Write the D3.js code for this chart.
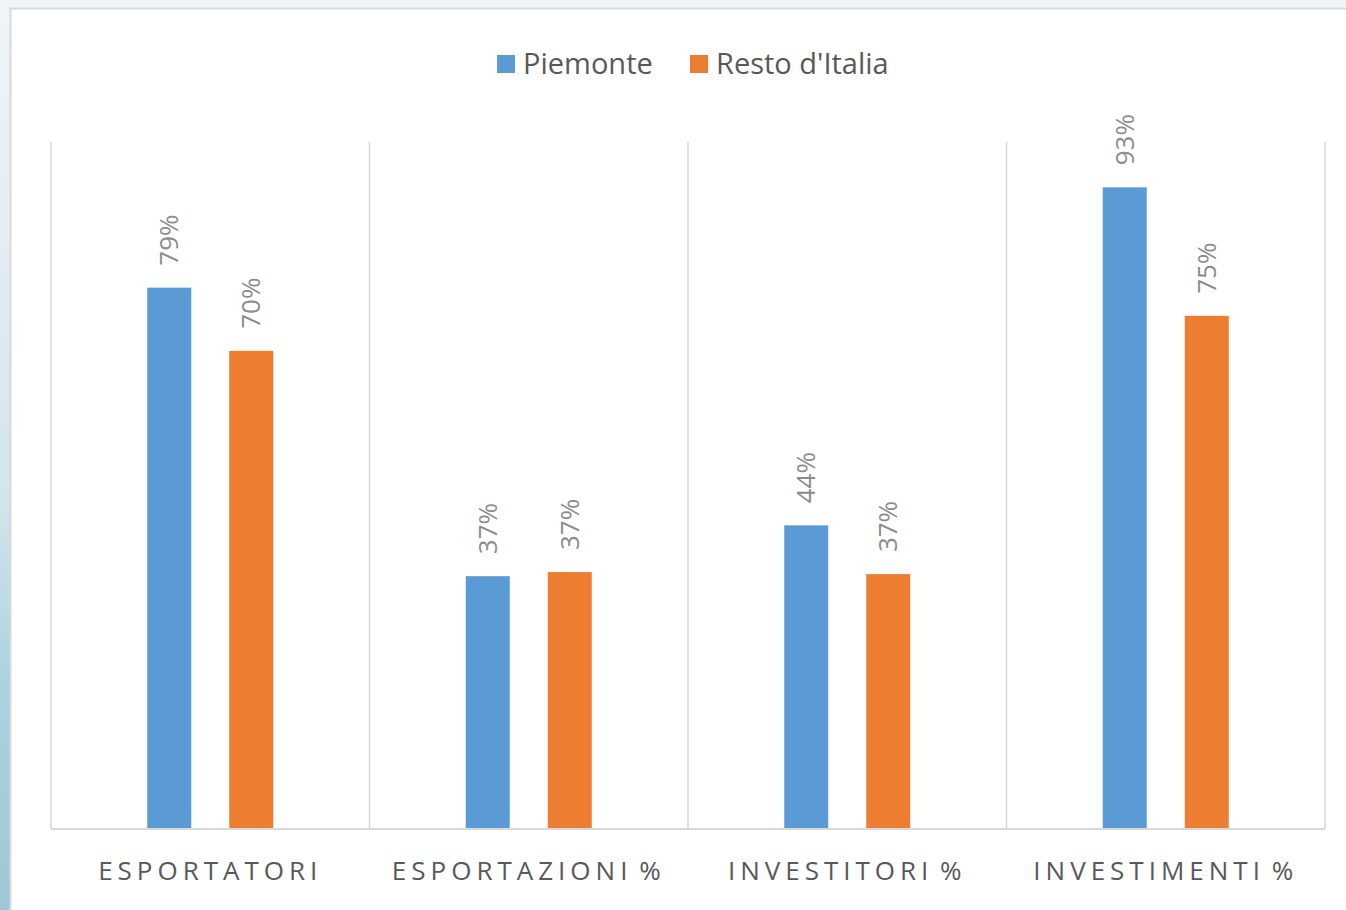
<!DOCTYPE html>
<html>
<head>
<meta charset="utf-8">
<script src="https://cdn.jsdelivr.net/npm/d3@7"></script>
<style>
  body { margin: 0; background: #fff; }
  svg { display: block; font-family: "Open Sans", "Liberation Sans", sans-serif; }
</style>
</head>
<body>
<script>
// data
var categories = ["ESPORTATORI", "ESPORTAZIONI %", "INVESTITORI %", "INVESTIMENTI %"];
var seriesNames = ["Piemonte", "Resto d'Italia"];
var piemonte = [78.8, 36.8, 44.2, 93.4];
var restoItalia = [69.6, 37.4, 37.1, 74.7];
var colors = ["#5b9bd5", "#ed7d31"];

var width = 1346, height = 910;
var margin = {top: 142, right: 21, bottom: 81, left: 51}; // plot area 51..1325, 142..829

var svg = d3.select("body").append("svg").attr("width", width).attr("height", height);

// slide background behind the chart box
var defs = svg.append("defs");
var grad = defs.append("linearGradient").attr("id", "bg").attr("x1", 0).attr("y1", 0).attr("x2", 0).attr("y2", 1);
grad.append("stop").attr("offset", "0%").attr("stop-color", "#f1f4f7");
grad.append("stop").attr("offset", "55%").attr("stop-color", "#d3e4ec");
grad.append("stop").attr("offset", "75%").attr("stop-color", "#a9d3df");
grad.append("stop").attr("offset", "100%").attr("stop-color", "#9fc6d6");
svg.append("rect").attr("width", width).attr("height", height).attr("fill", "url(#bg)");

// white chart box
svg.append("rect")
  .attr("x", 10.5).attr("y", 8.5)
  .attr("width", width).attr("height", height)
  .attr("fill", "#fff").attr("stroke", "#d9d9d9").attr("stroke-width", 2);

var data = categories.map(function(c, i) {
  return {cat: c, values: [piemonte[i], restoItalia[i]]};
});

var x = d3.scaleBand()
  .domain(categories)
  .range([margin.left, width - margin.right]);

var y = d3.scaleLinear()
  .domain([0, 100])
  .range([height - margin.bottom, margin.top]);

// gridlines between categories
var bounds = categories.map(function(c) { return x(c); }).concat([x.range()[1]]);
svg.append("g").selectAll("line")
  .data(bounds)
  .enter().append("line")
    .attr("x1", function(d) { return d; })
    .attr("x2", function(d) { return d; })
    .attr("y1", y(100))
    .attr("y2", y(0))
    .attr("stroke", "#d9d9d9")
    .attr("stroke-width", 1.5);

// bars: offset from category center
var barW = 44, offset = 41;
var groups = svg.append("g").selectAll("g")
  .data(data)
  .enter().append("g")
    .attr("transform", function(d) { return "translate(" + (x(d.cat) + x.bandwidth() / 2) + ",0)"; });

groups.selectAll("rect")
  .data(function(d) { return d.values; })
  .enter().append("rect")
    .attr("x", function(d, i) { return (i === 0 ? -offset : offset) - barW / 2; })
    .attr("y", function(d) { return y(d); })
    .attr("width", barW)
    .attr("height", function(d) { return y(0) - y(d); })
    .attr("fill", function(d, i) { return colors[i]; });

// rotated value labels
groups.selectAll("text")
  .data(function(d) { return d.values; })
  .enter().append("text")
    .attr("transform", function(d, i) {
      return "translate(" + ((i === 0 ? -offset : offset) + 9) + "," + (y(d) - 22) + ") rotate(-90)";
    })
    .attr("text-anchor", "start")
    .attr("font-size", 26)
    .attr("fill", "#8c8c8c")
    .text(function(d) { return Math.round(d) + "%"; });

// baseline
svg.append("line")
  .attr("x1", x.range()[0]).attr("x2", x.range()[1])
  .attr("y1", y(0)).attr("y2", y(0))
  .attr("stroke", "#d9d9d9").attr("stroke-width", 2);

// category labels
var xAxis = d3.axisBottom(x).tickSize(0).tickPadding(0);
var axisG = svg.append("g")
  .attr("transform", "translate(0," + y(0) + ")")
  .call(xAxis);
axisG.select(".domain").remove();
axisG.selectAll("text")
  .attr("y", 51)
  .attr("dy", 0)
  .attr("font-family", "\"Open Sans\", sans-serif")
  .attr("font-size", 26)
  .attr("letter-spacing", "5px")
  .attr("word-spacing", "-5px")
  .attr("fill", "#595959");

// legend
var legendItems = [{name: seriesNames[0], x: 497, color: colors[0]}, {name: seriesNames[1], x: 690, color: colors[1]}];
var legend = svg.append("g").selectAll("g")
  .data(legendItems)
  .enter().append("g")
    .attr("transform", function(d) { return "translate(" + d.x + ",0)"; });
legend.append("rect")
  .attr("x", 0).attr("y", 55).attr("width", 18).attr("height", 18)
  .attr("fill", function(d) { return d.color; });
legend.append("text")
  .attr("x", 26).attr("y", 74)
  .attr("font-size", 29)
  .attr("fill", "#595959")
  .text(function(d) { return d.name; });
</script>
</body>
</html>
